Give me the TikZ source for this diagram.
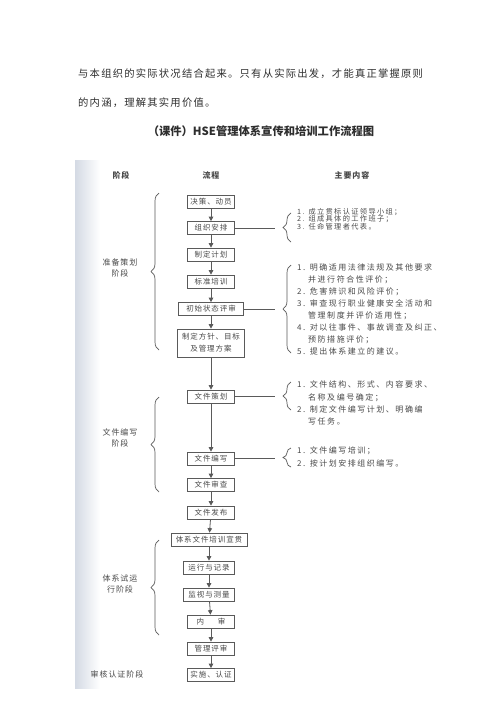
\documentclass[tikz,border=0pt]{standalone}
\usepackage{fontspec}
\setmainfont{Noto Sans CJK SC}
\newfontfamily\cjksp[LetterSpace=12]{Noto Sans CJK SC}
\newfontfamily\cjkwide[LetterSpace=19]{Noto Sans CJK SC}
\usetikzlibrary{arrows.meta,decorations.pathreplacing}
\definecolor{txtgray}{HTML}{4A4A4A}
\definecolor{linegray}{HTML}{5A5A5A}
\definecolor{bodytxt}{HTML}{2E2E2E}
\definecolor{scanedge}{HTML}{D4DAE4}
\tikzset{
  fbox/.style={draw=linegray, line width=0.7pt, minimum height=13pt, minimum width=47pt,
    inner sep=0pt, align=center, text=txtgray, font={\cjksp\fontsize{7.5}{10}\selectfont}},
  arr/.style={draw=linegray, line width=0.8pt, -{Triangle[length=4.5pt,width=4.5pt]}},
  ln/.style={draw=linegray, line width=0.7pt},
  brc/.style={draw=linegray, line width=0.7pt, decorate, decoration={brace, amplitude=8pt}},
  ctext/.style={inner sep=0pt, anchor=north west, align=left, text=txtgray},
  stage/.style={inner sep=0pt, align=center, text=txtgray, font={\cjksp\fontsize{8}{11}\selectfont}},
  hdr/.style={inner sep=0pt, text=txtgray, font={\cjksp\bfseries\fontsize{8}{10}\selectfont}},
  body/.style={inner sep=0pt, anchor=west, text=bodytxt, font={\cjksp\fontsize{10.3}{12}\selectfont}}
}
\begin{document}
\begin{tikzpicture}[x=1pt,y=-1pt]
\useasboundingbox (0,0) rectangle (500,707);
\fill[white] (0,0) rectangle (500,707);
% scanned page edge
\shade[left color=scanedge, right color=white] (75,160) rectangle (100,688);

% body text
\node[body] (l1) at (78,74) {与本组织的实际状况结合起来。只有从实际出发，才能真正掌握原则};
\node[body] (l2) at (78,103) {的内涵，理解其实用价值。};
\node[inner sep=0pt, text=bodytxt, font={\bfseries\fontsize{11.3}{12}\selectfont}] (title) at (261,131) {（课件）HSE管理体系宣传和培训工作流程图};

% headers
\node[hdr] (h1) at (121,175) {阶段};
\node[hdr] (h2) at (211,175) {流程};
\node[hdr] (h3) at (352,175) {主要内容};

% flow boxes
\node[fbox] (b1) at (211,201.5) {决策、动员};
\node[fbox] (b2) at (211,228) {组织安排};
\node[fbox] (b3) at (211,254.5) {制定计划};
\node[fbox] (b4) at (211,281.5) {标准培训};
\node[fbox, minimum width=65pt] (b5) at (211,309) {初始状态评审};
\node[fbox, minimum width=67pt, minimum height=28pt, font={\cjksp\fontsize{7.5}{12}\selectfont}] (b6) at (211,343) {制定方针、目标\\及管理方案};
\node[fbox] (b7) at (211,396.5) {文件策划};
\node[fbox] (b8) at (211,458.5) {文件编写};
\node[fbox] (b9) at (211,485) {文件审查};
\node[fbox] (b10) at (211,512.5) {文件发布};
\node[fbox, minimum width=76pt] (b11) at (209,539.5) {体系文件培训宣贯};
\node[fbox, minimum width=51pt] (b12) at (209,567.5) {运行与记录};
\node[fbox, minimum width=51pt] (b13) at (209,594.5) {监视与测量};
\node[fbox] (b14) at (211,621.5) {内\hspace{14pt}审};
\node[fbox] (b15) at (211,648.5) {管理评审};
\node[fbox] (b16) at (211,675) {实施、认证};

\foreach \a/\b in {b1/b2,b2/b3,b3/b4,b4/b5,b5/b6,b6/b7,b7/b8,b8/b9,b9/b10,b10/b11,b11/b12,b12/b13,b13/b14,b14/b15,b15/b16}
  \draw[arr] (\a) -- (\b);

% left braces and stage labels
\draw[brc] (159,350) -- (159,193);
\draw[brc] (159,492) -- (159,397);
\draw[brc] (159,635) -- (159,540);
\node[stage] (s1) at (120,268) {准备策划\\阶段};
\node[stage] (s2) at (120,438) {文件编写\\阶段};
\node[stage] (s3) at (120,584) {体系试运\\行阶段};
\node[stage] (s4) at (117,674) {审核认证阶段};

% right branches
\coordinate (r1) at (275,228);
\coordinate (r2) at (275,309);
\coordinate (r3) at (275,396.5);
\coordinate (r4) at (275,458.5);
\draw[ln] (b2.east) -- (r1);
\draw[ln] (b5.east) -- (r2);
\draw[ln] (b7.east) -- (r3);
\draw[ln] (b8.east) -- (r4);
\draw[brc] (291,242) -- (291,213);
\draw[brc] (291,353) -- (291,265);
\draw[brc] (291,410) -- (291,382);
\draw[brc] (291,467) -- (291,448);

\node[ctext, font={\cjkwide\fontsize{7.2}{7.7}\selectfont}] (c1) at (297,208)
  {1. 成立贯标认证领导小组；\\2. 组成具体的工作班子；\\3. 任命管理者代表。};
\node[ctext, font={\cjkwide\fontsize{8}{12}\selectfont}] (c2) at (297,264)
  {1. 明确适用法律法规及其他要求\\\hspace{11pt}并进行符合性评价；\\2. 危害辨识和风险评价；\\3. 审查现行职业健康安全活动和\\\hspace{11pt}管理制度并评价适用性；\\4. 对以往事件、事故调查及纠正、\\\hspace{11pt}预防措施评价；\\5. 提出体系建立的建议。};
\node[ctext, font={\cjkwide\fontsize{8}{12.3}\selectfont}] (c3) at (297,381)
  {1. 文件结构、形式、内容要求、\\\hspace{11pt}名称及编号确定；\\2. 制定文件编写计划、明确编\\\hspace{11pt}写任务。};
\node[ctext, font={\cjkwide\fontsize{8}{13}\selectfont}] (c4) at (297,447)
  {1. 文件编写培训；\\2. 按计划安排组织编写。};
\end{tikzpicture}
\end{document}
